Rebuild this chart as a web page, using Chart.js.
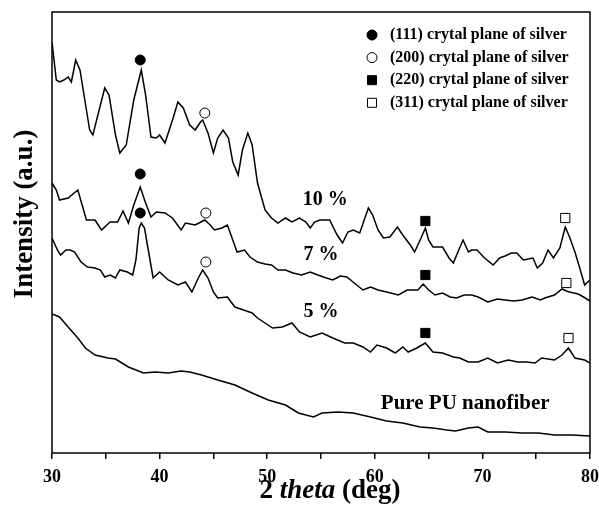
<!DOCTYPE html>
<html>
<head>
<meta charset="utf-8">
<script src="https://cdn.jsdelivr.net/npm/chart.js@4.4.1/dist/chart.umd.min.js"></script>
<style>
  html, body { margin: 0; padding: 0; background: #fff; }
  #wrap { width: 599px; height: 506px; }
</style>
</head>
<body>
<div id="wrap"><canvas id="chart"></canvas></div>
<script>
// ---- XRD patterns (2 theta in deg, intensity in a.u.) ----
const theta10 = [30.0,30.4,30.7,31.1,31.5,31.8,32.2,32.6,33.2,33.5,33.8,34.5,34.9,35.3,35.9,36.3,36.9,37.6,38.3,38.7,39.2,39.7,40.0,40.5,41.2,41.7,42.2,42.8,43.3,43.8,44.0,44.5,45.0,45.4,45.9,46.4,46.8,47.3,47.7,48.2,48.6,49.1,49.8,50.4,51.0,51.7,52.3,53.0,53.6,54.0,54.4,54.9,55.8,56.5,57.0,57.5,58.0,58.6,59.4,59.8,60.3,60.8,61.4,62.1,62.6,63.3,63.7,64.3,64.7,65.0,65.4,66.3,66.9,67.3,67.8,68.2,68.7,69.0,69.5,70.2,71.0,71.6,72.1,72.7,73.2,73.8,74.7,75.1,75.6,76.1,76.6,77.2,77.7,78.1,78.6,79.1,79.5,80.0];
const int10 = [411,373,371,373,376,371,393,383,343,323,318,348,365,358,318,300,308,353,383,358,316,315,318,310,333,351,345,328,323,331,333,320,300,315,323,315,291,278,303,320,308,270,243,235,230,235,231,235,231,225,231,233,233,218,210,221,223,220,245,238,223,215,216,226,218,208,201,215,225,213,206,206,195,190,203,213,201,203,203,195,188,195,197,200,200,193,195,185,190,203,195,205,226,216,201,183,168,173];

const theta7 = [30.0,30.4,30.7,31.5,32.4,32.8,33.2,34.0,34.6,35.4,36.1,36.6,37.1,37.6,38.2,38.7,39.2,39.7,40.5,41.2,42.0,42.4,43.3,44.2,44.7,45.1,45.8,46.3,46.8,47.2,47.9,48.4,49.1,49.8,50.4,51.0,51.7,52.4,53.2,54.0,54.7,55.5,56.1,56.8,57.4,58.2,58.9,59.6,60.3,61.1,62.2,63.0,64.0,64.5,65.0,65.6,66.3,67.0,67.6,68.3,69.0,69.6,70.5,71.4,72.1,72.9,73.7,74.6,75.4,75.8,76.7,77.4,77.8,78.1,78.9,79.4,80.0];
const int7 = [270,263,253,255,263,248,233,233,223,231,231,242,230,248,266,250,236,241,240,235,223,230,228,233,228,223,225,228,213,201,203,196,191,189,188,183,183,180,178,181,178,175,173,177,176,169,163,166,163,161,158,163,163,169,163,158,160,156,155,158,158,156,151,154,153,152,153,156,153,155,158,164,162,161,159,156,152];

const theta5 = [30.0,30.5,30.8,31.3,31.7,32.1,32.7,33.3,34.0,34.5,34.9,35.4,35.9,36.3,37.0,37.5,37.8,38.1,38.3,38.6,38.9,39.4,40.0,40.8,41.7,42.4,43.0,43.6,44.0,44.5,45.0,45.4,46.3,47.0,47.8,48.6,49.1,49.8,50.5,51.4,52.3,53.0,54.0,55.1,56.1,57.2,58.0,58.9,59.6,60.2,61.1,61.9,62.6,63.1,63.9,64.7,65.4,66.3,67.3,67.9,68.7,69.6,70.5,71.4,72.4,73.3,74.1,74.9,75.5,76.7,77.4,78.0,78.6,79.5,80.0];
const int5 = [215,203,198,203,203,201,191,186,185,183,176,178,175,183,181,178,193,225,230,225,206,175,181,173,168,171,161,175,183,175,161,155,156,146,143,140,135,130,125,126,130,121,116,120,115,110,110,106,101,108,105,100,106,101,105,110,101,100,96,95,91,91,95,90,93,91,91,90,95,93,98,105,95,93,90];

const thetaPU = [30.0,30.7,31.5,32.4,33.1,34.0,35.2,35.9,37.1,38.5,39.6,40.8,42.0,42.8,43.9,45.4,47.0,48.6,50.1,51.7,52.9,54.3,55.1,56.6,58.0,59.6,61.1,62.6,64.2,65.4,66.7,67.5,68.7,69.6,70.5,72.1,73.7,75.2,76.7,78.3,80.0];
const intPU = [139,136,126,115,105,98,95,94,86,80,81,80,82,81,78,73,68,60,53,48,40,36,40,41,40,36,32,30,26,25,23,22,25,26,21,21,20,20,18,18,17];

// silver reflections marked above the peaks: [2 theta, intensity]
const plane111 = [[38.2,393],[38.2,279],[38.2,240]];
const plane200 = [[44.2,340],[44.3,240],[44.3,191]];
const plane220 = [[64.7,232],[64.7,178],[64.7,120]];
const plane311 = [[77.7,235],[77.8,170],[78.0,115]];

const xTicks = [30, 40, 50, 60, 70, 80];

// =========================
function toPoints(xs, ys) {
    return xs.map((v, i) => ({ x: v, y: ys[i] }));
}

function curve(label, xs, ys) {
    return {
        type: 'line',
        label: label,
        data: toPoints(xs, ys),
        borderColor: '#000',
        borderWidth: 1.5,
        pointRadius: 0,
        tension: 0,
        fill: false
    };
}

function marker(label, pts, style, filled, radius) {
    return {
        type: 'scatter',
        label: label,
        data: pts.map(p => ({ x: p[0], y: p[1] })),
        pointStyle: style,
        pointRadius: radius,
        pointBorderWidth: 1,
        pointBorderColor: '#000',
        pointBackgroundColor: filled ? '#000' : '#fff',
        isMarker: true
    };
}

const SERIF = '"Liberation Serif", "Times New Roman", serif';

// frame, curve names, marker legend and the axis titles (theta in italics)
const decorations = {
    id: 'decorations',
    afterDraw(chart) {
        const { ctx, chartArea: a, scales: { x, y } } = chart;
        ctx.save();
        ctx.strokeStyle = '#000';
        ctx.lineWidth = 1.5;
        ctx.strokeRect(a.left, a.top, a.right - a.left, a.bottom - a.top);

        ctx.fillStyle = '#000';
        ctx.textBaseline = 'middle';
        ctx.textAlign = 'center';
        ctx.font = 'bold 20px ' + SERIF;
        ctx.fillText('10 %', x.getPixelForValue(55.4), y.getPixelForValue(253));
        ctx.fillText('7 %', x.getPixelForValue(55.0), y.getPixelForValue(198));
        ctx.fillText('5 %', x.getPixelForValue(55.0), y.getPixelForValue(141));
        ctx.font = 'bold 21px ' + SERIF;
        ctx.fillText('Pure PU nanofiber', x.getPixelForValue(68.4), y.getPixelForValue(49));

        // legend
        const markers = chart.data.datasets.filter(d => d.isMarker);
        ctx.font = 'bold 16px ' + SERIF;
        ctx.textAlign = 'left';
        markers.forEach((d, i) => {
            const mx = a.right - 218;
            const my = a.top + 23 + i * 22.6;
            ctx.fillStyle = d.pointBackgroundColor;
            ctx.strokeStyle = '#000';
            ctx.lineWidth = 1;
            ctx.beginPath();
            if (d.pointStyle === 'circle') {
                ctx.arc(mx, my, 5, 0, Math.PI * 2);
            } else {
                ctx.rect(mx - 4.5, my - 4.5, 9, 9);
            }
            ctx.fill();
            ctx.stroke();
            ctx.fillStyle = '#000';
            ctx.fillText(d.label, mx + 18, my);
        });

        // x axis title
        const parts = [['2 ', 'bold'], ['theta', 'italic bold'], [' (deg)', 'bold']];
        let total = 0;
        parts.forEach(p => { ctx.font = p[1] + ' 27px ' + SERIF; total += ctx.measureText(p[0]).width; });
        let tx = (a.left + a.right) / 2 + 9 - total / 2;
        parts.forEach(p => {
            ctx.font = p[1] + ' 27px ' + SERIF;
            ctx.fillText(p[0], tx, 491);
            tx += ctx.measureText(p[0]).width;
        });

        // y axis title
        ctx.translate(25, 214);
        ctx.rotate(-Math.PI / 2);
        ctx.textAlign = 'center';
        ctx.font = 'bold 27px ' + SERIF;
        ctx.fillText('Intensity (a.u.)', 0, 0);
        ctx.restore();
    }
};

const chart = new Chart(document.getElementById('chart'), {
    data: {
        datasets: [
            marker('(111) crytal plane of silver', plane111, 'circle', true, 5),
            marker('(200) crytal plane of silver', plane200, 'circle', false, 5),
            marker('(220) crytal plane of silver', plane220, 'rect', true, 6.5),
            marker('(311) crytal plane of silver', plane311, 'rect', false, 6.5),
            curve('10 %', theta10, int10),
            curve('7 %', theta7, int7),
            curve('5 %', theta5, int5),
            curve('Pure PU nanofiber', thetaPU, intPU)
        ]
    },
    options: {
        responsive: true,
        maintainAspectRatio: false,
        animation: false,
        layout: { padding: { left: 0, right: 9, top: 12, bottom: 0 } },
        plugins: {
            legend: { display: false },
            tooltip: { enabled: false }
        },
        scales: {
            x: {
                type: 'linear',
                min: 30,
                max: 80,
                afterFit(s) {
                    s.height = 53;
                    s.paddingLeft = 9;
                    s.paddingRight = 9;
                },
                border: { display: false },
                grid: {
                    drawOnChartArea: false,
                    drawTicks: true,
                    tickLength: 6,
                    color: '#000',
                    lineWidth: 1.5
                },
                ticks: {
                    stepSize: 5,
                    autoSkip: false,
                    maxRotation: 0,
                    padding: 8,
                    color: '#000',
                    font: { family: SERIF, size: 18, weight: 'bold' },
                    callback: v => xTicks.includes(v) ? String(v) : ''
                },
                title: { display: false }
            },
            y: {
                type: 'linear',
                min: 0,
                max: 441,
                afterFit(s) { s.width = 52; },
                border: { display: false },
                grid: { display: false },
                ticks: { display: false },
                title: { display: false }
            }
        }
    },
    plugins: [decorations]
});
</script>
</body>
</html>
